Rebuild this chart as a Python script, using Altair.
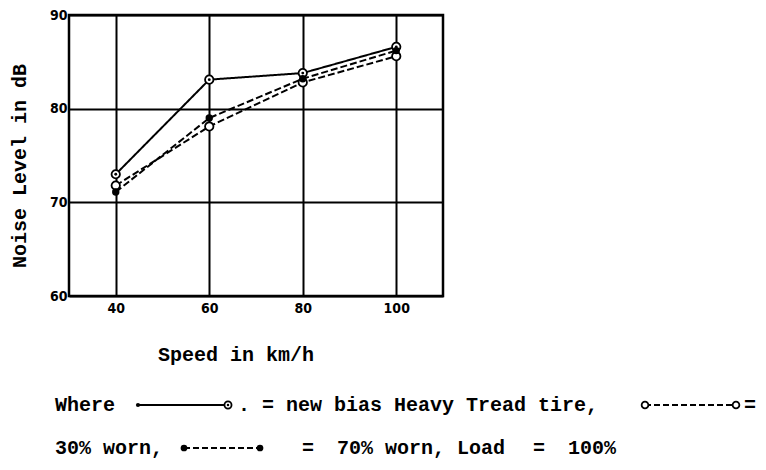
import altair as alt
import pandas as pd

# ---- data ----
speeds = [40, 60, 80, 100]
new_tire = [73.0, 83.1, 83.8, 86.6]
worn_30 = [71.8, 78.1, 82.8, 85.6]
worn_70 = [71.1, 79.0, 83.2, 86.2]
series_names = ["new", "30% worn", "70% worn"]
x_ticks = [40, 60, 80, 100]
y_ticks = [60, 70, 80, 90]

rows = []
for name, vals in zip(series_names, [new_tire, worn_30, worn_70]):
    for s, v in zip(speeds, vals):
        rows.append({"speed": s, "noise": v, "series": name})
df = pd.DataFrame(rows)

MONO = "Liberation Mono"
TICKF = "DejaVu Sans Condensed, Liberation Sans Narrow, DejaVu Sans"

x = alt.X("speed:Q", scale=alt.Scale(domain=[30, 110], nice=False, zero=False),
          axis=alt.Axis(values=x_ticks, title=None, grid=True, gridColor="black",
                        gridWidth=2, gridOpacity=1, domain=False, ticks=False,
                        labelPadding=5, labelFont=TICKF, labelFontSize=14,
                        labelFontWeight="bold", labelColor="black"))
y = alt.Y("noise:Q", scale=alt.Scale(domain=[60, 90], nice=False, zero=False),
          axis=alt.Axis(values=y_ticks, title=None, grid=True, gridColor="black",
                        gridWidth=2, gridOpacity=1, domain=False, ticks=False,
                        labelPadding=2, labelFont=TICKF, labelFontSize=14,
                        labelFontWeight="bold", labelColor="black"))

base = alt.Chart(df)

lines = base.mark_line(color="black", strokeWidth=2).encode(
    x=x, y=y,
    detail="series:N",
    strokeDash=alt.StrokeDash("series:N", legend=None,
                              scale=alt.Scale(domain=series_names,
                                              range=[[1, 0], [7, 3], [7, 3]])),
)

pts_new = base.transform_filter(alt.datum.series == "new").mark_point(
    shape="circle", filled=True, fill="white", stroke="black", strokeWidth=1.8, size=70, opacity=1
).encode(x=x, y=y)
pts_new_dot = base.transform_filter(alt.datum.series == "new").mark_point(
    shape="circle", filled=True, color="black", size=8, opacity=1
).encode(x=x, y=y)
pts_30 = base.transform_filter(alt.datum.series == "30% worn").mark_point(
    shape="circle", filled=True, fill="white", stroke="black", strokeWidth=1.8, size=70, opacity=1
).encode(x=x, y=y)
pts_70 = base.transform_filter(alt.datum.series == "70% worn").mark_point(
    shape="circle", filled=True, color="black", size=55, opacity=1
).encode(x=x, y=y)

one = pd.DataFrame({"k": [0]})


def txt(s, px, py, angle=0, align="left"):
    return alt.Chart(one).mark_text(
        text=s, font=MONO, fontSize=20, fontWeight="bold", color="black",
        align=align, baseline="middle", angle=angle
    ).encode(x=alt.value(px), y=alt.value(py))


def rule(x1, x2, py, dash=None):
    kw = {"color": "black", "strokeWidth": 2}
    if dash:
        kw["strokeDash"] = dash
    return alt.Chart(one).mark_rule(**kw).encode(
        x=alt.value(x1), x2=alt.value(x2), y=alt.value(py))


def marker(px, py, fill, size=50):
    if fill == "white":
        return alt.Chart(one).mark_point(shape="circle", filled=True, fill="white",
                                         stroke="black", strokeWidth=1.8, size=size,
                                         opacity=1).encode(x=alt.value(px), y=alt.value(py))
    return alt.Chart(one).mark_point(shape="circle", filled=True, color="black",
                                     size=size, opacity=1).encode(x=alt.value(px), y=alt.value(py))


ROW2 = 390
ROW3 = 433

texts = [
    txt("Noise Level in dB", -49, 151, angle=270, align="center"),
    txt("Speed in km/h", 89, 340),
    txt("Where", -14, ROW2),
    txt(". = new bias Heavy Tread tire,", 169, ROW2),
    txt("=", 675, ROW2),
    txt("30% worn,", -14, ROW3),
    txt("=", 233, ROW3),
    txt("70% worn, Load", 268, ROW3),
    txt("=", 464, ROW3),
    txt("100%", 499, ROW3),
]

legend_marks = [
    rule(69, 159, ROW2),
    marker(69, ROW2, "black", 18),
    marker(159, ROW2, "white", 50),
    marker(159, ROW2, "black", 6),
    rule(576, 667, ROW2, [6, 3]),
    marker(576, ROW2, "white", 45),
    marker(667, ROW2, "white", 45),
    rule(115, 191, ROW3, [6, 3]),
    marker(115, ROW3, "black", 45),
    marker(191, ROW3, "black", 45),
]

chart = alt.layer(lines, pts_new, pts_new_dot, pts_30, pts_70, *legend_marks, *texts).properties(
    width=374, height=281,
    autosize="none",
    padding={"left": 61, "top": 7, "right": 315, "bottom": 164},
    background="white",
).configure_view(stroke="black", strokeWidth=2.5)

chart.save("out.html", embed_options={"renderer": "svg", "actions": False})
